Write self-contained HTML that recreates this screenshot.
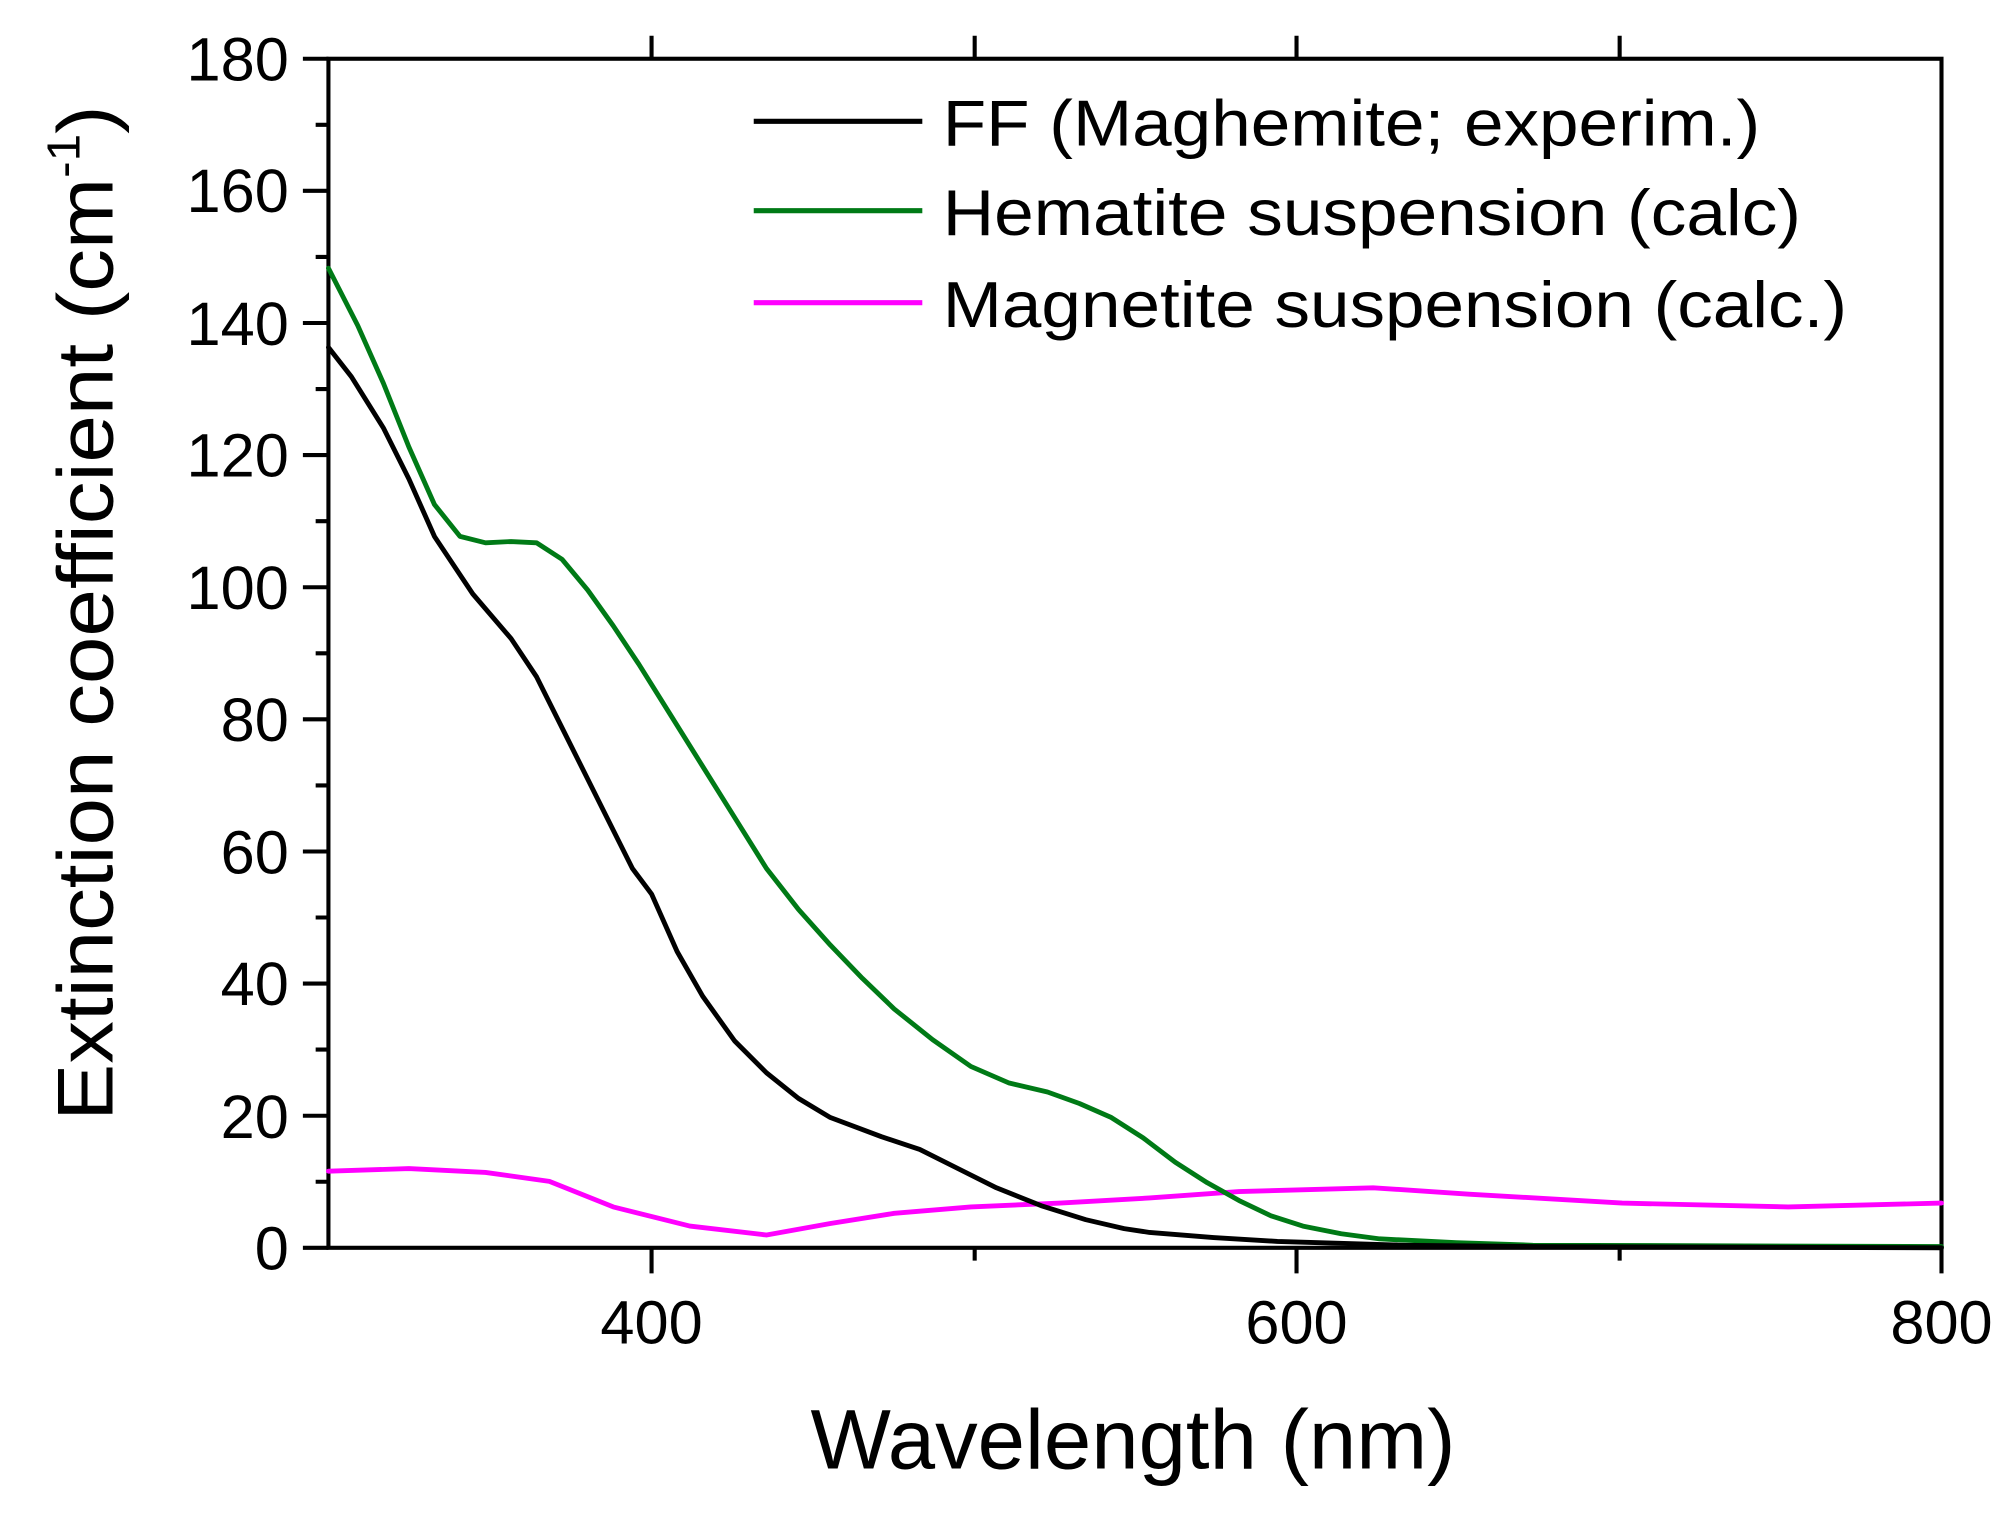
<!DOCTYPE html>
<html><head><meta charset="utf-8"><style>html,body{margin:0;padding:0;background:#fff}svg{display:block}</style></head>
<body>
<svg width="2003" height="1516" viewBox="0 0 1568 1187" xmlns="http://www.w3.org/2000/svg" font-family="Liberation Sans, Arial, sans-serif">
<rect width="1568" height="1187" fill="#fff"/>
<g stroke="#000" stroke-width="3.2" fill="none">
<rect x="257" y="46" width="1263" height="931"/>
<path d="M237 977H257M237 873.6H257M237 770.1H257M237 666.7H257M237 563.2H257M237 459.8H257M237 356.3H257M237 252.9H257M237 149.4H257M237 46H257"/>
<path d="M247 925.3H257M247 821.8H257M247 718.4H257M247 615H257M247 511.5H257M247 408.1H257M247 304.6H257M247 201.2H257M247 97.7H257"/>
<path d="M510 977V997M1015 977V997M1520 977V997M763 977V987M1268 977V987"/>
<path d="M510 46V28M763 46V28M1015 46V28M1268 46V28"/>
</g>
<g font-size="48" fill="#000" text-anchor="end">
<text x="226" y="994">0</text>
<text x="226" y="891">20</text>
<text x="226" y="787">40</text>
<text x="226" y="684">60</text>
<text x="226" y="580">80</text>
<text x="226" y="477">100</text>
<text x="226" y="373">120</text>
<text x="226" y="270">140</text>
<text x="226" y="166">160</text>
<text x="226" y="63">180</text>
</g>
<g font-size="48" fill="#000" text-anchor="middle">
<text x="510" y="1052">400</text>
<text x="1015" y="1052">600</text>
<text x="1520" y="1052">800</text>
</g>
<text x="887" y="1150" font-size="66" text-anchor="middle" textLength="505" lengthAdjust="spacingAndGlyphs">Wavelength (nm)</text>
<text transform="translate(88,480) rotate(-90)" font-size="62" text-anchor="middle" textLength="795" lengthAdjust="spacingAndGlyphs">Extinction coefficient (cm<tspan font-size="36" dy="-26">-1</tspan><tspan dy="26">)</tspan></text>
<g fill="none" stroke-width="3.8" stroke-linejoin="round" stroke-linecap="round">
<polyline stroke="#ff00ff" points="257,917 320,915 380,918 430,925 480,945 540,960 600,967 650,958 700,950 760,945 830,942 900,938 970,933 1075,930 1150,935 1270,942 1400,945 1520,942"/>
<polyline stroke="#007a16" points="257,210 280,255 300,300 320,350 340,395 360,420 380,425 400,424 420,425 440,438 460,462 480,490 500,520 525,560 550,600 575,640 600,680 625,712 650,740 675,766 700,790 730,814 760,835 790,848 820,855 845,864 870,875 895,891 920,910 945,926 970,940 995,952 1020,960 1050,966 1080,970 1140,973 1200,975 1520,976"/>
<polyline stroke="#000" points="257,272 275,295 300,335 320,375 340,420 370,465 400,500 420,530 440,570 460,610 480,650 495,680 510,700 530,745 550,780 575,815 600,840 625,860 650,875 690,890 720,900 750,915 780,930 815,944 850,955 880,962 900,965 950,969 1000,972 1100,975 1200,976 1520,977"/>
</g>
<g stroke-width="4">
<line x1="590" y1="95" x2="722" y2="95" stroke="#000"/>
<line x1="590" y1="165" x2="722" y2="165" stroke="#007a16"/>
<line x1="590" y1="237" x2="722" y2="237" stroke="#ff00ff"/>
</g>
<g font-size="51" fill="#000">
<text x="738" y="114" textLength="640" lengthAdjust="spacingAndGlyphs">FF (Maghemite; experim.)</text>
<text x="738" y="184" textLength="672" lengthAdjust="spacingAndGlyphs">Hematite suspension (calc)</text>
<text x="738" y="256" textLength="708" lengthAdjust="spacingAndGlyphs">Magnetite suspension (calc.)</text>
</g>
</svg>
</body></html>
